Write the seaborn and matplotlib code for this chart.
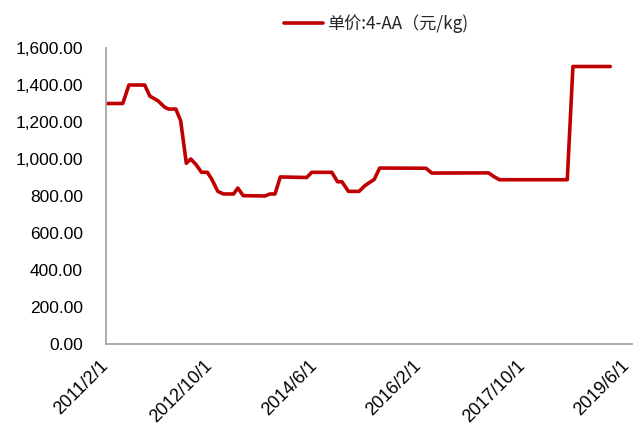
import matplotlib
matplotlib.use("Agg")
import matplotlib.pyplot as plt
import seaborn as sns
import pandas as pd

# ---- data ----
dates = ["2011-02-01", "2011-05-10", "2011-06-15", "2011-09-15", "2011-10-15",
         "2011-12-01", "2012-01-10", "2012-02-01", "2012-03-15", "2012-04-12",
         "2012-05-15", "2012-06-10", "2012-07-10", "2012-08-12", "2012-09-15",
         "2012-10-10", "2012-11-15", "2012-12-18", "2013-02-15", "2013-03-12",
         "2013-04-12", "2013-08-18", "2013-09-15", "2013-10-15", "2013-11-15",
         "2014-04-18", "2014-05-18", "2014-09-12", "2014-10-15", "2014-11-10",
         "2014-12-18", "2015-02-18", "2015-03-24", "2015-05-18", "2015-06-18",
         "2016-03-15", "2016-04-18", "2017-03-15", "2017-04-15", "2017-05-18",
         "2018-06-18", "2018-07-21", "2019-02-24"]
prices = [1300, 1300, 1400, 1400, 1340,
          1315, 1280, 1270, 1270, 1207,
          977, 1000, 971, 928, 928,
          892, 825, 811, 811, 843,
          802, 800, 811, 811, 903,
          900, 928, 928, 877, 877,
          825, 825, 856, 890, 951,
          950, 924, 925, 905, 888,
          888, 1500, 1500]
series_name = "单价:4-AA（元/kg)"
tick_dates = ["2011-02-01", "2012-10-01", "2014-06-01", "2016-02-01",
              "2017-10-01", "2019-06-01"]
tick_labels = ["2011/2/1", "2012/10/1", "2014/6/1", "2016/2/1",
               "2017/10/1", "2019/6/1"]
y_ticks = [0, 200, 400, 600, 800, 1000, 1200, 1400, 1600]

df = pd.DataFrame({"date": pd.to_datetime(dates), "price": prices,
                   "series": series_name})

sns.set_style("white")
plt.rcParams["font.family"] = ["Liberation Sans", "Noto Sans CJK SC"]

fig = plt.figure(figsize=(6.35, 4.26), dpi=100)
ax = fig.add_axes([106 / 635, 82 / 426, (632 - 106) / 635, (344 - 48) / 426])

sns.lineplot(data=df, x="date", y="price", hue="series",
             palette=["#C00000"], linewidth=2.6, ax=ax)

ax.set_xlim(pd.Timestamp("2011-02-01"), pd.Timestamp("2019-07-01"))
ax.set_ylim(0, 1600)
ax.set_yticks(y_ticks)
ax.set_yticklabels([f"{v:,.2f}" for v in y_ticks])
ax.set_xticks(pd.to_datetime(tick_dates))
ax.set_xticklabels(tick_labels, rotation=45, ha="right", va="center",
                   rotation_mode="anchor")

ax.set_xlabel("")
ax.set_ylabel("")
for s in ["top", "right"]:
    ax.spines[s].set_visible(False)
for s in ["left", "bottom"]:
    ax.spines[s].set_color("#A6A6A6")
    ax.spines[s].set_linewidth(1.3)
ax.tick_params(axis="both", which="major", direction="out", length=4,
               width=1.1, color="#A6A6A6", labelcolor="#000000")
ax.tick_params(axis="y", pad=12.5, labelsize=12.5)
ax.tick_params(axis="x", pad=10, labelsize=13)
ax.grid(False)

leg = ax.legend(loc="center", bbox_to_anchor=(376 / 635, 1 - 24 / 426),
                bbox_transform=fig.transFigure, frameon=False,
                handlelength=2.3, handletextpad=0.2,
                prop={"family": ["Noto Sans CJK SC", "DejaVu Sans"], "size": 12.3})
for t in leg.get_texts():
    t.set_color("#262626")

fig.savefig("out.png", dpi=100)
